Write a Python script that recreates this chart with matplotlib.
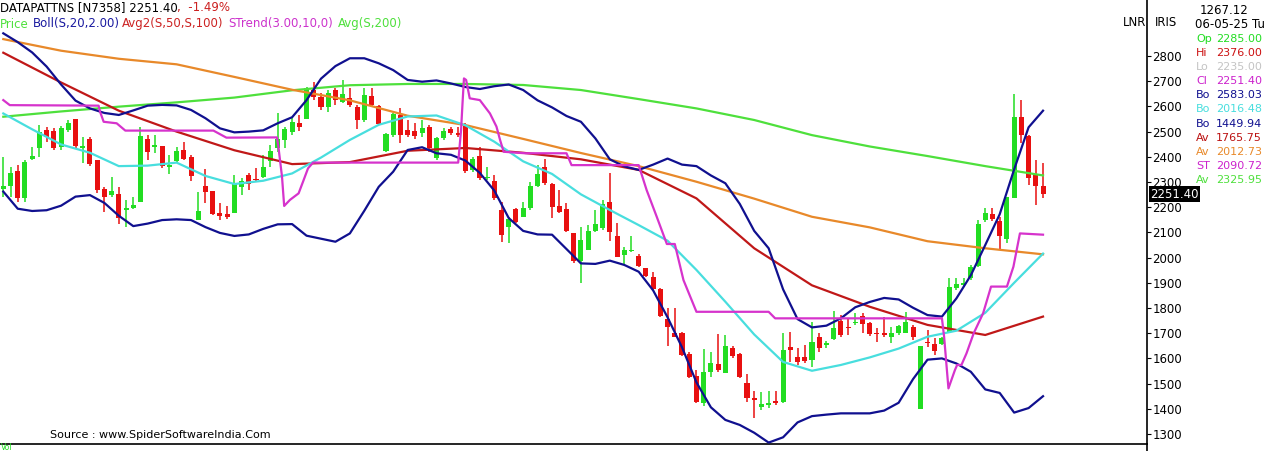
import matplotlib
matplotlib.use("Agg")
import matplotlib.pyplot as plt
from matplotlib.lines import Line2D
import numpy as np

# дневные свечи (145 баров)
opens = [2271, 2284, 2344, 2235, 2391, 2434, 2506, 2502, 2440, 2506,
         2549, 2434, 2471, 2387, 2271, 2249, 2252, 2189, 2196, 2222,
         2469, 2438, 2443, 2361, 2385, 2427, 2398, 2149, 2286, 2264,
         2178, 2172, 2178, 2282, 2328, 2313, 2321, 2385, 2434, 2467,
         2500, 2533, 2549, 2665, 2639, 2596, 2665, 2619, 2632, 2599,
         2546, 2641, 2602, 2424, 2487, 2566, 2506, 2502, 2493, 2520,
         2394, 2473, 2510, 2493, 2522, 2348, 2403, 2315, 2305, 2189,
         2120, 2192, 2163, 2196, 2284, 2361, 2292, 2205, 2192, 2096,
         1988, 2030, 2107, 2116, 2222, 2086, 2010, 2028, 2006, 1958,
         1922, 1874, 1755, 1702, 1702, 1616, 1530, 1422, 1548, 1577,
         1544, 1643, 1618, 1504, 1442, 1406, 1415, 1431, 1428, 1644,
         1604, 1604, 1594, 1684, 1653, 1676, 1748, 1723, 1739, 1768,
         1739, 1700, 1700, 1684, 1700, 1702, 1723, 1398, 1667, 1657,
         1657, 1706, 1878, 1891, 1918, 1967, 2149, 2172, 2145, 2073,
         2235, 2557, 2483, 2332, 2285]
highs = [2400, 2361, 2368, 2387, 2440, 2526, 2517, 2513, 2522, 2546,
         2549, 2480, 2480, 2387, 2282, 2321, 2279, 2229, 2242, 2520,
         2487, 2487, 2443, 2407, 2440, 2460, 2407, 2259, 2352, 2264,
         2218, 2205, 2328, 2315, 2334, 2354, 2407, 2447, 2575, 2520,
         2553, 2566, 2678, 2698, 2652, 2665, 2672, 2705, 2672, 2606,
         2672, 2672, 2606, 2493, 2575, 2592, 2546, 2533, 2546, 2526,
         2480, 2513, 2520, 2520, 2533, 2401, 2440, 2361, 2328, 2222,
         2163, 2196, 2222, 2301, 2368, 2390, 2295, 2268, 2218, 2096,
         2123, 2130, 2189, 2229, 2334, 2136, 2043, 2086, 2013, 1958,
         1944, 1878, 1799, 1799, 1706, 1627, 1554, 1636, 1627, 1697,
         1693, 1649, 1623, 1538, 1472, 1468, 1472, 1472, 1700, 1706,
         1640, 1653, 1746, 1700, 1671, 1790, 1772, 1759, 1779, 1779,
         1746, 1719, 1766, 1726, 1733, 1786, 1733, 1649, 1713, 1680,
         1686, 1918, 1918, 1918, 1971, 2149, 2196, 2196, 2163, 2242,
         2649, 2626, 2487, 2387, 2376]
lows = [2242, 2242, 2222, 2222, 2387, 2401, 2460, 2427, 2427, 2500,
        2434, 2377, 2364, 2258, 2182, 2242, 2133, 2123, 2192, 2222,
        2387, 2417, 2354, 2332, 2381, 2387, 2305, 2149, 2218, 2169,
        2149, 2152, 2178, 2249, 2268, 2304, 2315, 2361, 2420, 2434,
        2487, 2504, 2549, 2626, 2586, 2579, 2606, 2612, 2596, 2509,
        2540, 2596, 2526, 2420, 2480, 2454, 2477, 2471, 2480, 2420,
        2387, 2467, 2487, 2480, 2337, 2341, 2308, 2308, 2229, 2063,
        2059, 2136, 2163, 2189, 2282, 2288, 2156, 2176, 2103, 1980,
        1898, 2030, 2103, 2110, 2067, 2001, 1971, 2024, 1964, 1925,
        1872, 1766, 1649, 1684, 1610, 1521, 1422, 1411, 1525, 1548,
        1541, 1600, 1521, 1428, 1362, 1395, 1402, 1415, 1422, 1587,
        1574, 1580, 1567, 1627, 1640, 1673, 1686, 1693, 1733, 1702,
        1689, 1667, 1684, 1663, 1693, 1700, 1673, 1398, 1647, 1614,
        1653, 1700, 1872, 1885, 1911, 1964, 2143, 2145, 2030, 2059,
        2235, 2456, 2288, 2209, 2235]
closes = [2284, 2334, 2235, 2381, 2405, 2497, 2477, 2434, 2516, 2536,
          2443, 2443, 2372, 2268, 2239, 2266, 2156, 2196, 2209, 2483,
          2420, 2447, 2364, 2368, 2423, 2390, 2324, 2185, 2259, 2173,
          2167, 2160, 2291, 2304, 2292, 2308, 2361, 2423, 2469, 2509,
          2540, 2517, 2672, 2639, 2596, 2655, 2626, 2649, 2606, 2546,
          2645, 2606, 2530, 2489, 2569, 2487, 2487, 2484, 2513, 2434,
          2473, 2502, 2493, 2487, 2344, 2390, 2315, 2321, 2235, 2090,
          2152, 2143, 2196, 2284, 2332, 2295, 2202, 2182, 2107, 1988,
          2070, 2107, 2133, 2212, 2103, 2004, 2030, 2030, 1967, 1927,
          1874, 1768, 1723, 1686, 1614, 1525, 1428, 1548, 1583, 1554,
          1649, 1610, 1525, 1442, 1435, 1418, 1422, 1422, 1633, 1633,
          1587, 1591, 1667, 1640, 1660, 1719, 1693, 1719, 1746, 1737,
          1697, 1696, 1693, 1700, 1729, 1746, 1684, 1649, 1663, 1631,
          1680, 1885, 1895, 1901, 1964, 2133, 2178, 2152, 2086, 2242,
          2559, 2487, 2315, 2284, 2251.4]

# полосы Боллинджера: крайние - каждый 2-й бар, средняя - каждый 4-й
band_bars = list(range(0, 145, 2))
boll_upper = [2890, 2855, 2814, 2758, 2687, 2623, 2592, 2574, 2566, 2584,
              2603, 2606, 2604, 2586, 2553, 2513, 2497, 2500, 2505, 2533,
              2557, 2625, 2710, 2760, 2791, 2791, 2771, 2744, 2705, 2698,
              2703, 2691, 2677, 2669, 2680, 2687, 2665, 2624, 2596, 2562,
              2539, 2473, 2390, 2362, 2348, 2369, 2393, 2369, 2363, 2326,
              2295, 2213, 2106, 2037, 1874, 1756, 1723, 1730, 1759, 1803,
              1824, 1840, 1834, 1801, 1772, 1766, 1838, 1930, 2050, 2172,
              2350, 2517, 2583]
boll_lower = [2262, 2194, 2185, 2188, 2206, 2242, 2248, 2217, 2166, 2125,
              2135, 2149, 2152, 2149, 2121, 2098, 2086, 2092, 2114, 2132,
              2133, 2087, 2075, 2063, 2096, 2186, 2281, 2341, 2427, 2438,
              2414, 2408, 2385, 2336, 2266, 2157, 2106, 2092, 2091, 2034,
              1977, 1975, 1988, 1971, 1944, 1870, 1763, 1644, 1505, 1406,
              1356, 1336, 1305, 1266, 1287, 1346, 1371, 1377, 1382, 1382,
              1382, 1393, 1424, 1518, 1595, 1600, 1580, 1547, 1477, 1463,
              1385, 1403, 1450]
mid_bars = list(range(0, 145, 4))
boll_mid = [2572, 2509, 2449, 2416, 2363, 2365, 2377, 2324, 2292, 2305,
            2334, 2397, 2467, 2527, 2560, 2564, 2525, 2460, 2382, 2332,
            2251, 2189, 2129, 2067, 1951, 1825, 1695, 1586, 1551, 1574,
            1604, 1639, 1686, 1710, 1781, 1900, 2016]

# скользящие средние (каждый 8-й бар)
ma_bars = list(range(0, 145, 8))
avg50 = [2813, 2695, 2583, 2500, 2426, 2371, 2379, 2424, 2435, 2416,
         2390, 2348, 2235, 2037, 1890, 1805, 1733, 1693, 1766]
avg100 = [2867, 2821, 2789, 2767, 2717, 2666, 2624, 2563, 2526, 2471,
          2415, 2363, 2301, 2234, 2162, 2120, 2065, 2037, 2013]
avg200 = [2559, 2580, 2599, 2616, 2635, 2664, 2684, 2689, 2689, 2685,
          2665, 2629, 2592, 2546, 2486, 2441, 2403, 2363, 2326]

# SuperTrend - точки излома
st_bars = [0, 0.9, 13.2, 13.4, 13.9, 15.7, 16.9, 29.1, 30.9,
           37.9, 38.1, 38.6, 38.9, 39.7, 40.9, 41.6, 42.2, 42.9,
           63.0, 63.4, 63.6, 63.8, 64.1, 64.6, 66.0, 67.4, 68.3, 68.8, 69.3, 72.3,
           78.0, 78.7, 88.0, 89.1, 90.5, 91.9, 93.0, 94.2, 96.0, 106.0, 106.9,
           130.0, 130.3, 130.9, 131.8, 132.1, 132.7, 133.4, 134.4, 135.7,
           136.8, 139.0, 139.9, 140.8, 144]
st_vals = [2625, 2605, 2603, 2579, 2539, 2533, 2504, 2504, 2476,
           2477, 2440, 2321, 2205, 2229, 2255, 2308, 2354, 2377,
           2377, 2506, 2612, 2711, 2705, 2632, 2625, 2572, 2520, 2467, 2420, 2414,
           2414, 2367, 2367, 2268, 2162, 2054, 2054, 1911, 1785, 1785, 1759,
           1759, 1686, 1481, 1554, 1574, 1574, 1620, 1700, 1779,
           1885, 1885, 1964, 2096, 2091]

price_ticks = list(range(1300, 2900, 100))

info_labels = ["Op", "Hi", "Lo", "Cl", "Bo", "Bo", "Bo", "Av", "Av", "ST", "Av"]
info_values = ["2285.00", "2376.00", "2235.00", "2251.40", "2583.03", "2016.48",
               "1449.94", "1765.75", "2012.73", "2090.72", "2325.95"]

GREEN = "#22dd22"
RED = "#e81010"
NAVY = "#10108f"
CYAN = "#48dede"
DRED = "#c01818"
ORANGE = "#e8892a"
LGREEN = "#4ee03c"
MAGENTA = "#d633cc"
info_colors = [GREEN, "#cc1111", "#c4c4c4", "#cc22cc", NAVY, CYAN, NAVY,
               "#bb1111", ORANGE, "#cc22cc", LGREEN]

W, H = 1266, 451
fig = plt.figure(figsize=(W / 100, H / 100), dpi=100)
ax = fig.add_axes([0, 7 / H, 1147 / W, 444 / H])

ax.set_xlim(-0.457, 158.4)
ax.set_ylim(1260.4, 3022.2)

# свечи
o = np.array(opens)
c = np.array(closes)
x = np.arange(len(o))
cols = [GREEN if cc >= oo else RED for oo, cc in zip(o, c)]
ax.vlines(x, lows, highs, colors=cols, linewidth=1.1, zorder=2)
body = np.maximum(np.abs(c - o), 4)
ax.bar(x, body, bottom=np.minimum(o, c), width=0.7, color=cols, zorder=2)

# индикаторы
ax.plot(ma_bars, avg200, color=LGREEN, lw=1.6, zorder=3)
ax.plot(ma_bars, avg100, color=ORANGE, lw=1.6, zorder=3)
ax.plot(ma_bars, avg50, color=DRED, lw=1.6, zorder=3)
ax.plot(mid_bars, boll_mid, color=CYAN, lw=1.6, zorder=3)
ax.plot(band_bars, boll_upper, color=NAVY, lw=1.6, zorder=3)
ax.plot(band_bars, boll_lower, color=NAVY, lw=1.6, zorder=3)
ax.plot(st_bars, st_vals, color=MAGENTA, lw=1.6, zorder=3)

# оси
for s in ["top", "left"]:
    ax.spines[s].set_visible(False)
ax.spines["right"].set_linewidth(1.2)
ax.spines["bottom"].set_linewidth(1.2)
ax.set_xticks([])
ax.yaxis.tick_right()
ax.set_yticks(price_ticks)
ax.tick_params(axis="y", direction="out", length=3, pad=1, labelsize=8.5)
fig.add_artist(Line2D([1147 / W, 1147 / W], [0, 7 / H], color="black", lw=1.2))

# заголовки
def ftext(px, py, s, color="black", size=8.5, **kw):
    fig.text(px / W, 1 - py / H, s, color=color, fontsize=size,
             va="center", ha="left", **kw)

ftext(0, 8, "DATAPATTNS [N7358] 2251.40")
ftext(177, 8, ",  -1.49%", color="#cc2020")
ftext(0, 24, "Price", color=LGREEN)
ftext(33, 24, "Boll(S,20,2.00)", color="#1a1aa0")
ftext(122, 24, "Avg2(S,50,S,100)", color="#cc2222")
ftext(228, 24, "STrend(3.00,10,0)", color="#cc33cc")
ftext(338, 24, "Avg(S,200)", color=LGREEN)

ftext(1123, 23, "LNR")
ftext(1155, 23, "IRIS")
ftext(1200, 10, "1267.12")
ftext(1195, 24, "06-05-25 Tu")
for i, (lab, val, col) in enumerate(zip(info_labels, info_values, info_colors)):
    ftext(1196, 39 + i * 14.1, lab, color=col, size=8)
    ftext(1216, 39 + i * 14.1, val, color=col, size=8)

fig.text(1150 / W, 1 - 194 / H, "2251.40", color="white", fontsize=8.5,
         va="center", ha="left",
         bbox=dict(boxstyle="square,pad=0.12", facecolor="black", edgecolor="none"))

ftext(50, 435, "Source : www.SpiderSoftwareIndia.Com", size=8)
ftext(1, 447.5, "Vol", color=GREEN, size=5.5)

fig.savefig("out.png", dpi=100)
